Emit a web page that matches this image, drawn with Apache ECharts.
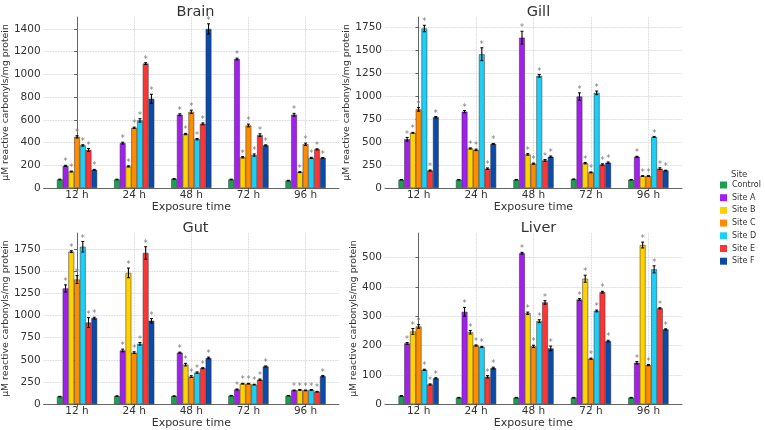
<!DOCTYPE html>
<html>
<head>
<meta charset="utf-8">
<script src="https://cdn.jsdelivr.net/npm/echarts@6/dist/echarts.min.js"></script>
<style>
  html, body { margin: 0; padding: 0; background: #fff; }
  #chart { width: 765px; height: 430px; }
</style>
</head>
<body>
<div id="chart"></div>
<script>
// exposure times and sampling sites
const categories = ['12 h', '24 h', '48 h', '72 h', '96 h']
const sites = ['Control', 'Site A', 'Site B', 'Site C', 'Site D', 'Site E', 'Site F']
const siteColors = ['#1ba052', '#a020f0', '#ffd200', '#ff8c00', '#1ccff5', '#ff3535', '#0a4aa8']

// rows = exposure time, columns = site (Control, A..F)
const brainMeans = [
  [75, 195, 145, 450, 375, 335, 160],
  [75, 395, 190, 530, 595, 1095, 785],
  [80, 645, 475, 670, 430, 565, 1400],
  [75, 1135, 270, 550, 290, 465, 375],
  [65, 645, 140, 385, 265, 340, 265],
]
const brainErrors = [
  [3, 5, 4, 10, 6, 12, 4],
  [3, 8, 5, 6, 15, 8, 40],
  [4, 8, 6, 15, 6, 8, 45],
  [3, 8, 6, 12, 10, 12, 5],
  [3, 12, 4, 10, 5, 5, 4],
]
const gillMeans = [
  [90, 530, 600, 855, 1735, 190, 770],
  [90, 830, 430, 415, 1455, 210, 480],
  [90, 1635, 365, 265, 1220, 300, 340],
  [95, 995, 270, 170, 1035, 255, 275],
  [90, 340, 130, 130, 555, 210, 190],
]
const gillErrors = [
  [3, 20, 5, 20, 35, 6, 8],
  [3, 12, 6, 8, 70, 8, 5],
  [3, 70, 8, 6, 15, 10, 8],
  [4, 40, 8, 5, 20, 8, 8],
  [3, 5, 4, 4, 6, 10, 4],
]
const gutMeans = [
  [85, 1305, 1720, 1405, 1775, 920, 970],
  [90, 605, 1480, 580, 680, 1705, 940],
  [90, 580, 445, 310, 355, 405, 520],
  [95, 165, 230, 230, 220, 275, 425],
  [95, 155, 160, 155, 160, 140, 315],
]
const gutErrors = [
  [3, 40, 10, 45, 60, 55, 10],
  [3, 15, 55, 10, 15, 70, 25],
  [3, 6, 15, 10, 8, 6, 10],
  [3, 6, 4, 4, 4, 8, 6],
  [3, 4, 5, 4, 4, 4, 8],
]
const liverMeans = [
  [28, 207, 248, 265, 117, 67, 88],
  [22, 315, 245, 200, 195, 93, 123],
  [22, 515, 310, 197, 283, 347, 190],
  [22, 357, 428, 155, 318, 382, 215],
  [22, 141, 543, 133, 460, 327, 255],
]
const liverErrors = [
  [1, 3, 10, 6, 2, 2, 2],
  [1, 15, 6, 2, 2, 4, 3],
  [1, 3, 4, 4, 5, 6, 8],
  [1, 3, 12, 2, 3, 3, 3],
  [1, 4, 10, 2, 12, 2, 2],
]

// tick labels
const xTicks = categories.map((_, i) => i)
const brainTicks = [0, 200, 400, 600, 800, 1000, 1200, 1400]
const gillTicks = [0, 250, 500, 750, 1000, 1250, 1500, 1750]
const gutTicks = [0, 250, 500, 750, 1000, 1250, 1500, 1750]
const liverTicks = [0, 100, 200, 300, 400, 500]

const FONT = 'DejaVu Sans'
const TEXT = '#333'
const X_MIN = -0.585
const X_MAX = 4.585
const GRID_W = 297
const BAR_W = GRID_W / (X_MAX - X_MIN) * 0.1

const panels = [
  { title: 'Brain', means: brainMeans, errors: brainErrors, ticks: brainTicks, yMax: 1505, left: 42, top: 17, height: 171, nameGap: 28 },
  { title: 'Gill', means: gillMeans, errors: gillErrors, ticks: gillTicks, yMax: 1860, left: 385, top: 17, height: 171, nameGap: 28 },
  { title: 'Gut', means: gutMeans, errors: gutErrors, ticks: gutTicks, yMax: 1930, left: 42, top: 233, height: 172, nameGap: 28 },
  { title: 'Liver', means: liverMeans, errors: liverErrors, ticks: liverTicks, yMax: 584, left: 385, top: 233, height: 172, nameGap: 21 },
]

const grid = []
const xAxis = []
const yAxis = []
const title = []
const series = []

panels.forEach((p, pi) => {
  grid.push({ left: p.left, top: p.top, width: GRID_W, height: p.height })
  title.push({
    text: p.title,
    left: p.left + GRID_W / 2,
    top: p.top - 17,
    textAlign: 'center',
    textStyle: { fontFamily: FONT, fontSize: 14.5, fontWeight: 'normal', color: TEXT },
  })
  xAxis.push({
    type: 'value',
    gridIndex: pi,
    min: X_MIN,
    max: X_MAX,
    name: 'Exposure time',
    nameLocation: 'middle',
    nameGap: 13,
    nameTextStyle: { fontFamily: FONT, fontSize: 11, color: TEXT },
    axisLine: { show: true, onZero: false, lineStyle: { color: '#444', width: 0.8 } },
    axisTick: { show: true, length: 3, customValues: xTicks, lineStyle: { color: '#444', width: 0.8 } },
    axisLabel: {
      customValues: xTicks,
      margin: 2,
      fontFamily: FONT,
      fontSize: 10.5,
      color: TEXT,
      formatter: (v) => categories[Math.round(v)],
    },
    splitLine: { show: true, lineStyle: { type: 'dotted', color: '#c8c8c8', width: 0.8 } },
  })
  yAxis.push({
    type: 'value',
    gridIndex: pi,
    min: 0,
    max: p.yMax,
    name: 'μM reactive carbonyls/mg protein',
    nameLocation: 'middle',
    nameGap: p.nameGap,
    nameTextStyle: { fontFamily: FONT, fontSize: 9.3, color: TEXT },
    axisLine: { show: true, lineStyle: { color: '#444', width: 0.8 } },
    axisTick: { show: true, length: 3, customValues: p.ticks, lineStyle: { color: '#444', width: 0.8 } },
    axisLabel: {
      customValues: p.ticks,
      margin: 3,
      fontFamily: FONT,
      fontSize: 10.5,
      color: TEXT,
      formatter: (v) => String(v),
    },
    splitLine: { show: true, lineStyle: { type: 'dotted', color: '#c8c8c8', width: 0.8 } },
  })

  sites.forEach((site, si) => {
    series.push({
      type: 'bar',
      name: site,
      xAxisIndex: pi,
      yAxisIndex: pi,
      barWidth: BAR_W,
      barGap: '0%',
      data: p.means.map((row, c) => [c, row[si]]),
      itemStyle: { color: siteColors[si], borderColor: '#333', borderWidth: 0.5 },
      silent: true,
    })
  })

  // error bars + significance stars
  const errData = []
  p.means.forEach((row, c) => {
    row.forEach((m, si) => errData.push([c, si, m, p.errors[c][si]]))
  })
  series.push({
    type: 'custom',
    name: 'err' + pi,
    xAxisIndex: pi,
    yAxisIndex: pi,
    silent: true,
    z: 5,
    encode: { x: 0, y: 2 },
    data: errData,
    renderItem: (params, api) => {
      const c = api.value(0)
      const si = api.value(1)
      const m = api.value(2)
      const e = api.value(3)
      const dx = (si - 3) * BAR_W
      const hi = api.coord([c, m + e])
      const lo = api.coord([c, m - e])
      const x = hi[0] + dx
      const children = [
        { type: 'line', shape: { x1: x, y1: hi[1], x2: x, y2: lo[1] }, style: { stroke: '#000', lineWidth: 1.1 } },
        { type: 'line', shape: { x1: x - 1.5, y1: hi[1], x2: x + 1.5, y2: hi[1] }, style: { stroke: '#000', lineWidth: 1 } },
        { type: 'line', shape: { x1: x - 1.5, y1: lo[1], x2: x + 1.5, y2: lo[1] }, style: { stroke: '#000', lineWidth: 1 } },
      ]
      if (si > 0) {
        children.push({
          type: 'text',
          x: x,
          y: hi[1] + 1,
          style: { text: '*', fill: '#777', font: '8px DejaVu Sans', align: 'center', verticalAlign: 'bottom' },
        })
      }
      return { type: 'group', children }
    },
  })
})

const chart = echarts.init(document.getElementById('chart'))
chart.setOption({
  animation: false,
  backgroundColor: '#fff',
  title,
  grid,
  xAxis,
  yAxis,
  legend: {
    data: sites,
    orient: 'vertical',
    left: 720,
    top: 181,
    padding: 0,
    icon: 'rect',
    itemWidth: 7,
    itemHeight: 7,
    itemGap: 4.7,
    itemStyle: { borderWidth: 0 },
    textStyle: { fontFamily: FONT, fontSize: 8, color: TEXT },
  },
  graphic: [
    {
      type: 'text',
      left: 731,
      top: 170,
      style: { text: 'Site', font: '8.5px DejaVu Sans', fill: TEXT },
    },
  ],
  series,
})
</script>
</body>
</html>
